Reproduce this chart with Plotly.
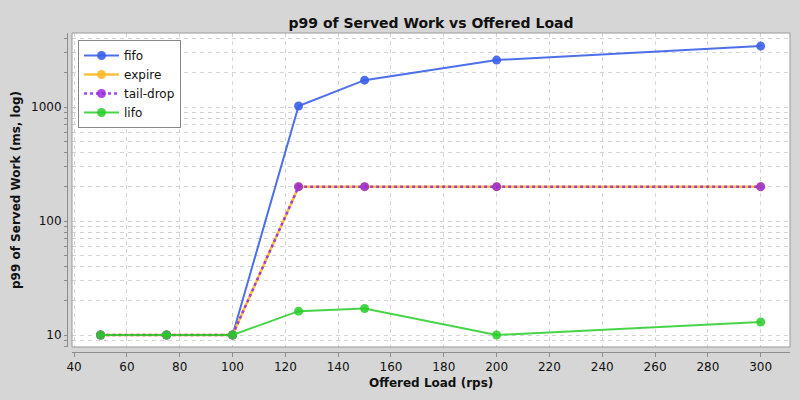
import plotly.graph_objects as go

# ------------------------- data -------------------------
offered_load = [50, 75, 100, 125, 150, 200, 300]
fifo_p99 = [10, 10, 10, 1020, 1720, 2580, 3420]
expire_p99 = [10, 10, 10, 200, 200, 200, 200]
tail_drop_p99 = [10, 10, 10, 200, 200, 200, 200]
lifo_p99 = [10, 10, 10, 16.2, 17.1, 10, 13]
x_ticks = [40, 60, 80, 100, 120, 140, 160, 180, 200, 220, 240, 260, 280, 300]
y_ticks = [10, 100, 1000]

BG = "#d6d6d6"
GRID = "#d4d4d4"
AXIS = "#8c8c8c"
FONT = "DejaVu Sans, Verdana, sans-serif"

series = [
    ("fifo", fifo_p99, "rgba(58,96,232,0.9)", "solid", 2),
    ("expire", expire_p99, "rgba(255,186,40,0.9)", "solid", 2.5),
    ("tail-drop", tail_drop_p99, "rgba(150,40,220,0.85)", "dot", 2.5),
    ("lifo", lifo_p99, "rgba(40,205,40,0.85)", "solid", 2),
]

# log grid: every 1..9 step inside each decade, labels only on the decades
y_grid = [d * k for d in [1] + y_ticks for k in range(1, 10)]
y_text = [str(v) if v in y_ticks else "" for v in y_grid]

fig = go.Figure()
for name, vals, color, dash, width in series:
    fig.add_trace(go.Scatter(
        x=offered_load, y=vals, name=name, mode="lines+markers",
        line=dict(color=color, width=width, dash=dash),
        marker=dict(color=color, size=9),
    ))

# plot area sits inside these paper bounds; axes are offset a few px (JFreeChart style)
X0, X1 = 72 / 800, 790 / 800
Y0, Y1 = 53 / 400, 367 / 400

fig.update_layout(
    width=800, height=400,
    paper_bgcolor=BG, plot_bgcolor="white",
    margin=dict(l=0, r=0, t=0, b=0, autoexpand=False),
    font=dict(family=FONT, size=12, color="#111"),
    title=dict(text="<b>p99 of Served Work vs Offered Load</b>", x=(X0 + X1) / 2,
               xanchor="center", y=1 - 23 / 400, yanchor="middle",
               font=dict(size=14, color="#111")),
    legend=dict(x=78 / 800, y=1 - 40 / 400, xanchor="left", yanchor="top",
                bgcolor="white", bordercolor="#888", borderwidth=1,
                font=dict(size=12), tracegroupgap=2, itemwidth=35),
    xaxis=dict(
        domain=[X0, X1], range=[39.2, 311.1], anchor="free", position=48 / 400,
        automargin=False,
        tickvals=x_ticks, ticks="outside", ticklen=4, tickcolor=AXIS,
        showline=True, linecolor=AXIS, linewidth=1,
        showgrid=True, gridcolor=GRID, griddash="4px,4px", gridwidth=1,
        zeroline=False, tickfont=dict(size=12, color="#111"),
    ),
    yaxis=dict(
        domain=[Y0, Y1], type="log", range=[0.895, 3.649], anchor="free", position=67 / 800,
        automargin=False,
        tickvals=y_grid, ticktext=y_text,
        ticks="outside", ticklen=3, tickcolor=AXIS,
        showline=True, linecolor=AXIS, linewidth=1,
        showgrid=True, gridcolor=GRID, griddash="4px,4px", gridwidth=1,
        zeroline=False, tickfont=dict(size=12, color="#111"),
    ),
)

# axis titles
fig.add_annotation(text="<b>Offered Load (rps)</b>", xref="paper", yref="paper",
                   x=(X0 + X1) / 2, y=1 - 383 / 400, xanchor="center", yanchor="middle",
                   showarrow=False, font=dict(size=12, color="#111"))
fig.add_annotation(text="<b>p99 of Served Work (ms, log)</b>", xref="paper", yref="paper",
                   x=16 / 800, y=1 - 190 / 400, xanchor="center", yanchor="middle",
                   showarrow=False, textangle=-90, font=dict(size=12, color="#111"))

# border around the plot area
fig.add_shape(type="rect", xref="paper", yref="paper", x0=X0, x1=X1, y0=Y0, y1=Y1,
              line=dict(color="#999", width=1), layer="above")

fig.write_html("out.html", config={"displayModeBar": False},
               post_script="document.body.style.margin='0';")
